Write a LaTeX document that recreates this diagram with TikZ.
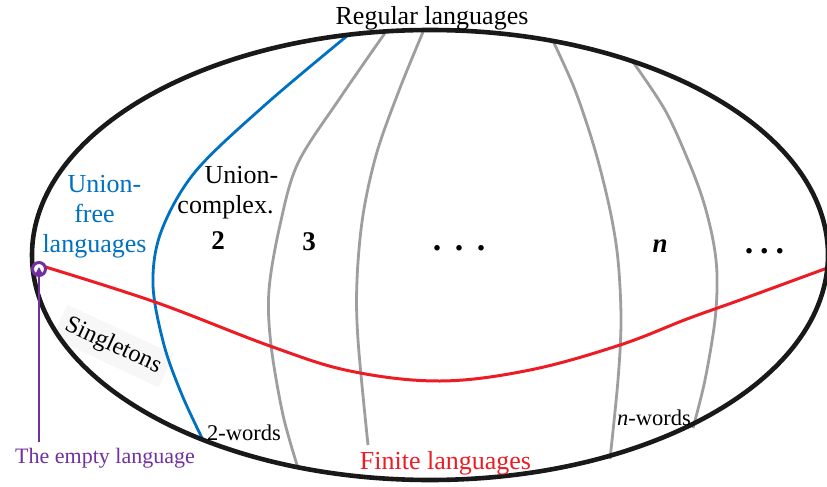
\documentclass[tikz,border=0pt]{standalone}
\usepackage{fontspec}
\setmainfont{Liberation Serif}
\usetikzlibrary{arrows.meta}
\definecolor{ublue}{RGB}{0,112,192}
\definecolor{ured}{RGB}{237,28,36}
\definecolor{upurple}{RGB}{112,48,160}
\definecolor{ugray}{RGB}{158,158,160}
\begin{document}
\begin{tikzpicture}[x=1pt,y=-1pt,
  big/.style={font=\fontsize{26}{30}\selectfont, inner sep=0pt, anchor=base},
  bignum/.style={font=\fontsize{27}{30}\selectfont\bfseries, inner sep=0pt, anchor=base},
  dots/.style={font=\fontsize{34}{36}\selectfont\bfseries, inner sep=0pt, anchor=base},
  small/.style={font=\fontsize{22.5}{27}\selectfont, inner sep=0pt, anchor=base},
  divider/.style={line width=2.8pt, ugray},
  bluediv/.style={line width=2.8pt, ublue},
  redline/.style={line width=3pt, ured},
  border/.style={line width=4.6pt, black!90}]
\useasboundingbox (0,0) rectangle (827,487);
% Singletons label with faint background
\node[font=\fontsize{24.5}{28}\selectfont, rotate=-25, fill=black!3, inner sep=7pt] (single) at (113,346) {Singletons};
% gray dividers
\draw[divider] plot[smooth, tension=0.55] coordinates {(385,33) (340,98) (298,163) (280,225) (269,290) (271,345) (283,415) (298,468)};
\draw[divider] plot[smooth, tension=0.55] coordinates {(423,32) (400,88) (377,152) (363,215) (357,280) (358,340) (368,445)};
\draw[divider] plot[smooth, tension=0.55] coordinates {(553,41) (575,90) (595,150) (610,210) (618,260) (621,320) (618,380) (610,459)};
\draw[divider] plot[smooth, tension=0.55] coordinates {(633,62) (665,110) (688,160) (703,200) (713,240) (717,275) (715,320) (705,380) (693,428)};
% blue divider
\draw[bluediv] plot[smooth, tension=0.55] coordinates {(347,36) (265,105) (195,172) (161,232) (153,285) (164,345) (182,395) (203,440)};
% red line
\draw[redline] plot[smooth, tension=0.6] coordinates {(39,265) (155,302) (270,346) (350,371) (440,381) (530,370) (620,345) (687,319) (740,300) (830,267)};
% outer ellipse
\draw[border] (430,255) ellipse [x radius=398pt, y radius=225pt];
% empty language marker
\node[circle, draw=upurple, line width=3pt, fill=white, minimum size=13pt, inner sep=0pt] (ring) at (39,269) {};
\coordinate (ebot) at (39,442);
\draw[upurple, line width=1.6pt, -{Triangle[length=7pt,width=7pt]}] (ebot) -- ([yshift=2pt]ring.center);
% texts
\node[big] (reg) at (432,25) {Regular languages};
\node[big, ured] (fin) at (445.5,469) {Finite languages};
\node[big, ublue] (uf1) at (104.5,192) {Union-};
\node[big, ublue] (uf2) at (94.5,222) {free};
\node[big, ublue] (uf3) at (94.5,252) {languages};
\node[big] (uc1) at (241.5,183) {Union-};
\node[big] (uc2) at (225.5,213) {complex.};
\node[bignum] (c2) at (218,249) {2};
\node[bignum] (c3) at (309,250) {3};
\node[bignum] (cn) at (660,252) {\textit{n}};
\node[dots] (d1) at (459,250.5) {.\hspace{13.5pt}.\hspace{13.5pt}.};
\node[dots] (d2) at (764.5,253.5) {.\hspace{7pt}.\hspace{7pt}.};
\node[small, anchor=base west] (w2) at (207,440) {2-words};
\node[small, anchor=base west] (wn) at (617,425) {\textit{n}-words};
\node[small, upurple, font=\fontsize{22}{26}\selectfont] (empty) at (105,463) {The empty language};
\end{tikzpicture}
\end{document}
